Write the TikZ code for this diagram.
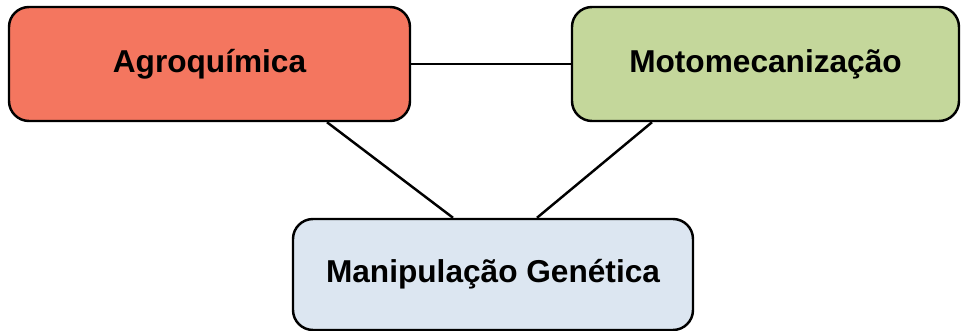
\documentclass[tikz,border=0pt]{standalone}
\usepackage{fontspec}
\setmainfont{Liberation Sans}
\usepackage{tikz}
\usetikzlibrary{positioning}

\definecolor{agrocolor}{HTML}{F4765F}
\definecolor{motocolor}{HTML}{C4D79B}
\definecolor{geneticcolor}{HTML}{DCE6F1}

\tikzset{
  areabox/.style={draw=black, line width=1.4pt, rounded corners=0.4cm, align=center,
    font=\fontsize{18}{21.6}\selectfont\bfseries, text=black, inner sep=0pt},
  link/.style={line width=1.4pt, black}
}

\begin{document}
\begin{tikzpicture}
    \useasboundingbox (0,0) rectangle (19.22,6.62);

    % Boxes
    \node[areabox, fill=agrocolor, minimum width=8.02cm, minimum height=2.28cm] (agro) at (4.19,5.34) {Agroquímica};
    \node[areabox, fill=motocolor, minimum width=7.74cm, minimum height=2.28cm] (moto) at (15.31,5.34) {Motomecanização};
    \node[areabox, fill=geneticcolor, minimum width=8.0cm, minimum height=2.22cm] (genetic) at (9.86,1.13) {Manipulação Genética};

    % Links
    \draw[link] (agro.east) -- (moto.west);
    \draw[link] ([xshift=2.35cm]agro.south) -- ([xshift=-0.8cm]genetic.north);
    \draw[link] ([xshift=-2.27cm]moto.south) -- ([xshift=0.88cm]genetic.north);
\end{tikzpicture}
\end{document}
